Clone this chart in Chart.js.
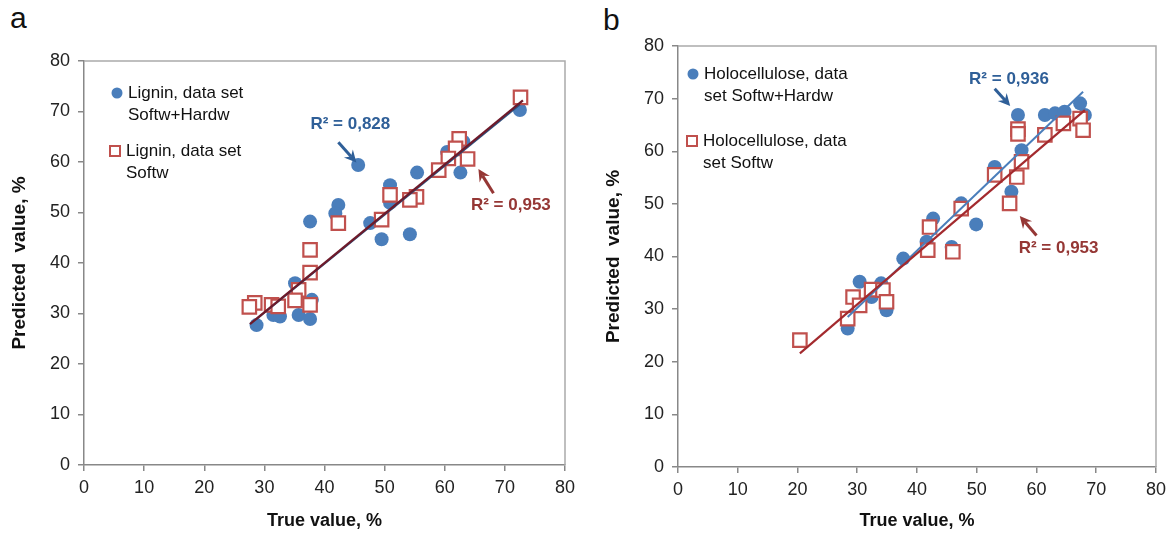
<!DOCTYPE html>
<html lang="en">
<head>
<meta charset="UTF-8">
<title>Lignin and holocellulose: predicted vs true value</title>
<style>
  html, body { overflow: hidden; }
  body { margin: 0; background: #fff; font-family: "Liberation Sans", Arial, sans-serif; }
  .panel { position: absolute; top: 0; height: 535px; }
  #left { left: 0; width: 588px; }
  #right { left: 594px; width: 578px; }
  .tag { position: absolute; font-size: 30px; color: #111; line-height: 1.15; }
</style>
<script src="https://cdn.jsdelivr.net/npm/chart.js@4.4.1/dist/chart.umd.min.js"></script>
</head>
<body>

<div class="tag" style="left:10px; top:1px;">a</div>
<div class="tag" style="left:603px; top:3px;">b</div>

<div class="panel" id="left"><canvas id="chartA"></canvas></div>
<div class="panel" id="right"><canvas id="chartB"></canvas></div>

<script>
// ---- data ----
var tickValues = [0, 10, 20, 30, 40, 50, 60, 70, 80];

// panel a: lignin
var ligninSH_true = [72.5, 45.6, 55.4, 62.6, 63.1, 60.4, 50.9, 50.9, 42.3, 41.8, 47.6, 49.5, 54.2, 37.6, 35.1, 37.9, 35.7, 37.6, 31.5, 32.6, 28.7];
var ligninSH_pred = [70.3, 59.4, 57.9, 57.9, 64.0, 62.0, 55.4, 51.9, 51.5, 49.8, 47.9, 44.7, 45.7, 48.2, 36.0, 32.7, 29.7, 28.9, 29.7, 29.4, 27.7];
var ligninS_true = [72.6, 62.4, 61.8, 60.6, 63.8, 59.0, 55.3, 54.2, 50.9, 49.5, 42.3, 37.6, 37.6, 35.7, 35.1, 37.6, 31.2, 32.3, 28.4, 27.5];
var ligninS_pred = [72.8, 64.6, 62.7, 60.7, 60.6, 58.4, 53.1, 52.5, 53.5, 48.6, 47.9, 42.6, 38.1, 34.7, 32.6, 31.7, 31.7, 31.4, 32.1, 31.3];
var ligninSH_fitX = [28.7, 72.5];
var ligninSH_fitY = [28.9, 71.4];
var ligninS_fitX = [27.6, 73.0];
var ligninS_fitY = [27.9, 72.2];
var ligninLabels = [["Lignin, data set", "Softw+Hardw"], ["Lignin, data set", "Softw"]];
var ligninR2 = ["R\u00b2 = 0,828", "R\u00b2 = 0,953"];

// panel b: holocellulose
var holoSH_true = [56.9, 61.4, 63.1, 64.7, 67.3, 68.1, 57.5, 53.0, 55.8, 47.4, 42.7, 49.9, 41.6, 45.8, 37.7, 30.4, 34.0, 32.4, 34.9, 28.4, 28.4];
var holoSH_pred = [66.9, 66.9, 67.2, 67.5, 69.1, 66.9, 60.2, 57.0, 52.3, 50.1, 47.2, 46.1, 42.8, 41.8, 39.6, 35.2, 34.9, 32.3, 29.8, 26.3, 28.3];
var holoS_true = [56.9, 56.9, 61.4, 64.5, 67.3, 67.8, 57.5, 56.7, 53.0, 55.5, 47.4, 42.1, 41.8, 46.0, 32.4, 34.3, 29.3, 30.4, 34.9, 28.4, 20.4];
var holoS_pred = [64.2, 63.3, 63.1, 65.3, 66.2, 64.0, 58.0, 55.1, 55.5, 50.1, 49.1, 45.6, 41.2, 40.9, 33.7, 33.6, 32.3, 30.7, 31.4, 28.2, 24.1];
var holoSH_fitX = [28.4, 67.8];
var holoSH_fitY = [28.5, 71.3];
var holoS_fitX = [20.4, 68.1];
var holoS_fitY = [21.6, 67.8];
var holoLabels = [["Holocellulose, data", "set Softw+Hardw"], ["Holocellulose, data", "set Softw"]];
var holoR2 = ["R\u00b2 = 0,936", "R\u00b2 = 0,953"];

var BLUE = '#4a7ebb', RED = '#c0504d';
var FONT = '"Liberation Sans", Arial, sans-serif';

function pts(xs, ys) {
    return xs.map(function(x, i) { return { x: x, y: ys[i] }; });
}

function drawArrow(ctx, x1, y1, x2, y2, color) {
    var a = Math.atan2(y2 - y1, x2 - x1), c = Math.cos(a), s = Math.sin(a);
    ctx.strokeStyle = color; ctx.fillStyle = color; ctx.lineWidth = 3;
    ctx.beginPath(); ctx.moveTo(x1, y1); ctx.lineTo(x2 - 8 * c, y2 - 8 * s); ctx.stroke();
    ctx.beginPath();
    ctx.moveTo(x2, y2);
    ctx.lineTo(x2 - 12 * c + 6 * s, y2 - 12 * s - 6 * c);
    ctx.lineTo(x2 - 8 * c, y2 - 8 * s);
    ctx.lineTo(x2 - 12 * c - 6 * s, y2 - 12 * s + 6 * c);
    ctx.closePath(); ctx.fill();
}

// box, in-plot legend and R² notes
var decor = {
    id: 'decor',
    beforeDatasetsDraw: function(chart) {
        var ctx = chart.ctx, a = chart.chartArea;
        ctx.save();
        ctx.strokeStyle = '#aaa'; ctx.lineWidth = 1.5;
        ctx.beginPath();
        ctx.moveTo(a.left, a.top); ctx.lineTo(a.right, a.top); ctx.lineTo(a.right, a.bottom);
        ctx.stroke();
        ctx.restore();
    },
    afterDatasetsDraw: function(chart, args, opts) {
        var ctx = chart.ctx, a = chart.chartArea;
        var xs = chart.scales.x, ys = chart.scales.y;
        ctx.save();
        // legend
        ctx.font = '17px ' + FONT;
        ctx.textBaseline = 'middle';
        opts.legend.forEach(function(item) {
            var mx = a.left + item.dx, my = a.top + item.dy;
            if (item.shape === 'circle') {
                ctx.fillStyle = BLUE;
                ctx.beginPath(); ctx.arc(mx, my, 5.5, 0, Math.PI * 2); ctx.fill();
            } else {
                ctx.fillStyle = '#fff'; ctx.strokeStyle = RED; ctx.lineWidth = 2;
                ctx.fillRect(mx - 5, my - 5, 10, 10);
                ctx.strokeRect(mx - 5, my - 5, 10, 10);
            }
            ctx.fillStyle = '#111';
            item.lines.forEach(function(t, k) {
                ctx.fillText(t, mx + 11, my + k * 22);
            });
        });
        // R² notes
        ctx.font = 'bold 17px ' + FONT;
        ctx.textAlign = 'center';
        opts.notes.forEach(function(n) {
            ctx.fillStyle = n.color;
            ctx.fillText(n.text, xs.getPixelForValue(n.at[0]), ys.getPixelForValue(n.at[1]));
            drawArrow(ctx, xs.getPixelForValue(n.from[0]), ys.getPixelForValue(n.from[1]),
                xs.getPixelForValue(n.to[0]), ys.getPixelForValue(n.to[1]), n.color);
        });
        ctx.restore();
    }
};

function axes(xTitle, xHeight, yWidth) {
    var setTicks = function(s) { s.ticks = tickValues.map(function(v) { return { value: v }; }); };
    var grid = { drawOnChartArea: false, drawTicks: true, tickLength: 6, color: '#888', lineWidth: 1.5 };
    return {
        x: {
            type: 'linear', min: 0, max: 80,
            afterBuildTicks: setTicks,
            afterFit: function(s) { s.height = xHeight; },
            grid: grid,
            border: { display: true, color: '#888', width: 1.5 },
            ticks: { color: '#222', font: { size: 18, family: FONT }, padding: 6, maxRotation: 0, autoSkip: false },
            title: { display: true, text: xTitle, color: '#111', font: { size: 18, weight: 'bold', family: FONT }, padding: { top: 0, bottom: 3 } }
        },
        y: {
            type: 'linear', min: 0, max: 80,
            afterBuildTicks: setTicks,
            afterFit: function(s) { s.width = yWidth; },
            grid: grid,
            border: { display: true, color: '#888', width: 1.5 },
            ticks: { color: '#222', font: { size: 18, family: FONT }, padding: 8, autoSkip: false },
            title: { display: true, text: 'Predicted  value, %', color: '#111', font: { size: 19, weight: 'bold', family: FONT }, padding: { top: 8, bottom: 0 } }
        }
    };
}

function makeChart(id, d, fitColors, padding, xHeight, legend, notes) {
    return new Chart(document.getElementById(id), {
        type: 'scatter',
        data: {
            datasets: [
                { label: 'fit S', data: pts(d.fitSx, d.fitSy), showLine: true, borderColor: fitColors[1], borderWidth: 2.2, pointRadius: 0, order: 0 },
                { label: 'fit SH', data: pts(d.fitSHx, d.fitSHy), showLine: true, borderColor: fitColors[0], borderWidth: 2, pointRadius: 0, order: 1 },
                { label: d.labels[1].join(' '), data: pts(d.sx, d.sy), pointStyle: 'rect', pointRadius: 9.5, backgroundColor: '#fff', borderColor: RED, borderWidth: 2.2, order: 2 },
                { label: d.labels[0].join(' '), data: pts(d.shx, d.shy), pointStyle: 'circle', pointRadius: 7, backgroundColor: BLUE, borderWidth: 0, order: 3 }
            ]
        },
        options: {
            responsive: true,
            maintainAspectRatio: false,
            animation: false,
            layout: { padding: padding },
            scales: axes('True value, %', xHeight, 84),
            plugins: {
                legend: { display: false },
                tooltip: { enabled: false },
                decor: { legend: legend, notes: notes }
            }
        },
        plugins: [decor]
    });
}

makeChart('chartA', {
    shx: ligninSH_true, shy: ligninSH_pred, sx: ligninS_true, sy: ligninS_pred,
    fitSHx: ligninSH_fitX, fitSHy: ligninSH_fitY, fitSx: ligninS_fitX, fitSy: ligninS_fitY,
    labels: ligninLabels
}, ['#2c4f7c', '#6e1a2a'], { top: 61, right: 23, left: 0, bottom: 0 }, 70, [
    { shape: 'circle', dx: 33, dy: 32, lines: ligninLabels[0] },
    { shape: 'rect', dx: 31, dy: 90, lines: ligninLabels[1] }
], [
    { text: ligninR2[0], color: '#2f5f98', at: [44.3, 67.5], from: [42.3, 63.9], to: [45.3, 59.9] },
    { text: ligninR2[1], color: '#953735', at: [71.0, 51.5], from: [68.1, 53.8], to: [65.6, 58.6] }
]);

makeChart('chartB', {
    shx: holoSH_true, shy: holoSH_pred, sx: holoS_true, sy: holoS_pred,
    fitSHx: holoSH_fitX, fitSHy: holoSH_fitY, fitSx: holoS_fitX, fitSy: holoS_fitY,
    labels: holoLabels
}, [BLUE, '#a32a2e'], { top: 46, right: 4, left: 0, bottom: 0 }, 68, [
    { shape: 'circle', dx: 15, dy: 28, lines: holoLabels[0] },
    { shape: 'rect', dx: 14, dy: 95, lines: holoLabels[1] }
], [
    { text: holoR2[0], color: '#2f5f98', at: [55.4, 73.7], from: [53.0, 71.9], to: [55.6, 68.6] },
    { text: holoR2[1], color: '#953735', at: [63.7, 41.5], from: [60.0, 44.0], to: [57.2, 47.7] }
]);
</script>
</body>
</html>
